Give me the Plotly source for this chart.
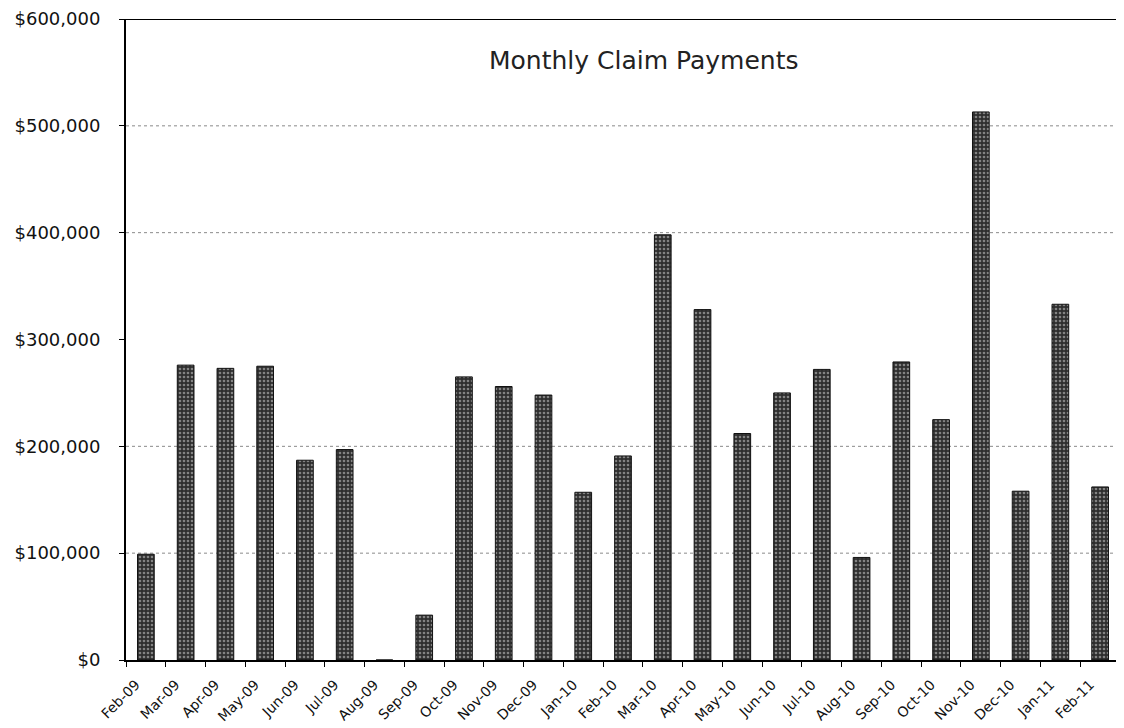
import plotly.graph_objects as go

months = ["Feb-09", "Mar-09", "Apr-09", "May-09", "Jun-09", "Jul-09", "Aug-09", "Sep-09",
          "Oct-09", "Nov-09", "Dec-09", "Jan-10", "Feb-10", "Mar-10", "Apr-10", "May-10",
          "Jun-10", "Jul-10", "Aug-10", "Sep-10", "Oct-10", "Nov-10", "Dec-10", "Jan-11", "Feb-11"]
payments = [99000, 276000, 273000, 275000, 187000, 197000, 0, 42000,
            265000, 256000, 248000, 157000, 191000, 398000, 328000, 212000,
            250000, 272000, 96000, 279000, 225000, 513000, 158000, 333000, 162000]
tick_vals = [0, 100000, 200000, 300000, 400000, 500000, 600000]
tick_text = ["$0", "$100,000", "$200,000", "$300,000", "$400,000", "$500,000", "$600,000"]
grid_levels = [100000, 200000, 400000, 500000]

FONT = "DejaVu Sans, Verdana, sans-serif"

fig = go.Figure()
fig.add_trace(go.Bar(
    x=months, y=payments,
    width=0.42,
    marker=dict(
        color="#3a3a3a",
        line=dict(color="#111111", width=1),
        pattern=dict(shape=".", fgcolor="#d8d8d8", bgcolor="#2e2e2e", size=4, solidity=0.35),
    ),
))

shapes = []
for g in grid_levels:
    shapes.append(dict(type="line", xref="paper", yref="y", x0=0, x1=1, y0=g, y1=g,
                       line=dict(color="#8a8a8a", width=1, dash="dot"), layer="below"))
# top border line at $600,000
shapes.append(dict(type="line", xref="paper", yref="y", x0=0, x1=1, y0=600000, y1=600000,
                   line=dict(color="#000000", width=2)))

fig.update_layout(
    width=1116, height=720,
    margin=dict(l=118, r=4, t=11, b=68, autoexpand=False),
    paper_bgcolor="white", plot_bgcolor="white",
    showlegend=False,
    font=dict(family=FONT, color="#111111"),
    shapes=shapes,
    annotations=[dict(
        text="Monthly Claim Payments", x=0.5216, y=0.936, xref="paper", yref="paper",
        showarrow=False, font=dict(size=25, color="#222222", family=FONT),
        xanchor="center", yanchor="middle",
    )],
)
fig.update_yaxes(
    range=[0, 600000], tickvals=tick_vals, ticktext=tick_text,
    tickfont=dict(size=18, color="#111111", family=FONT), automargin=False,
    ticklabeloverflow="allow",
    showgrid=False,
    showline=True, linecolor="#000000", linewidth=2, mirror=False,
    ticks="outside", ticklen=5, tickcolor="#000000", zeroline=False,
    ticklabelstandoff=15,
)
fig.update_xaxes(
    tickangle=-45, tickfont=dict(size=14, color="#111111", family=FONT), automargin=False,
    ticklabeloverflow="allow",
    showline=True, linecolor="#000000", linewidth=2,
    ticks="outside", ticklen=5, tickcolor="#000000", tickson="boundaries",
    showgrid=False, ticklabelshift=-10, ticklabelstandoff=9,
)

fig.write_html("out.html")
